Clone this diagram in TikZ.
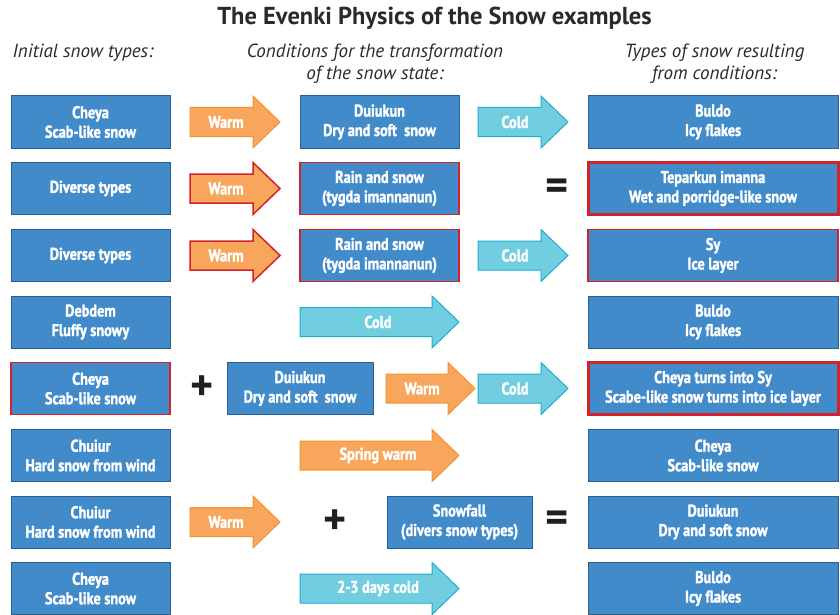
\documentclass[tikz,border=0pt]{standalone}
\usepackage{fontspec}
\setmainfont{PT Sans}
\newfontfamily\condfont[FakeStretch=0.84,FakeBold=1.6]{PT Sans Bold}
\definecolor{boxblue}{HTML}{428BCA}
\definecolor{boxedge}{HTML}{2C5F8C}
\definecolor{redge}{HTML}{D2232A}
\definecolor{warmfill}{HTML}{F8A65B}
\definecolor{warmedge}{HTML}{F39433}
\definecolor{coldfill}{HTML}{71CDE0}
\definecolor{coldedge}{HTML}{1FAECF}
\definecolor{hdr}{HTML}{2A2A2A}
\tikzset{
  snowbox/.style={draw=boxedge, line width=1pt, fill=boxblue, text=white,
    font=\condfont\fontsize{17}{19.5}\selectfont, align=center,
    minimum height=52pt, inner sep=0pt},
  leftbox/.style={snowbox, minimum width=159pt},
  midbox/.style={snowbox, minimum width=159pt},
  rightbox/.style={snowbox, minimum width=250pt},
  smallbox/.style={snowbox, minimum width=146pt},
  redthin/.style={draw=redge, line width=1.8pt},
  redthick/.style={draw=redge, line width=3pt},
  warmarrow/.style={fill=warmfill, draw=warmedge, line width=1pt},
  warmred/.style={fill=warmfill, draw=redge, line width=1.5pt},
  coldarrow/.style={fill=coldfill, draw=coldedge, line width=1pt},
  arrowlabel/.style={text=white, font=\condfont\fontsize{17}{19.5}\selectfont, inner sep=0pt},
  sign/.style={font=\bfseries\fontsize{44}{44}\selectfont, text=black!88, inner sep=0pt},
  header/.style={font=\itshape\fontsize{19}{22}\selectfont, text=hdr, align=center, inner sep=0pt},
}
% name, x1, x2, y, style, label x, label
\newcommand\fatarrow[7]{%
  \draw[#5] (#2,{#4-14.5}) -- ({#3-27},{#4-14.5}) -- ({#3-27},{#4-26}) -- (#3,#4)
    -- ({#3-27},{#4+26}) -- ({#3-27},{#4+14.5}) -- (#2,{#4+14.5}) -- cycle;
  \node[arrowlabel] (#1) at (#6,#4) {#7};}
\begin{document}
\begin{tikzpicture}[x=1pt,y=-1pt]
\useasboundingbox (0,0) rectangle (840,615);
\fill[white] (0,0) rectangle (840,615);

\node[font=\bfseries\fontsize{24.5}{28}\selectfont, text=hdr, inner sep=0pt] (title) at (434.5,18) {The Evenki Physics of the Snow examples};
\node[header] (h1) at (83,53) {Initial snow types:};
\node[header] (h2) at (375,64) {Conditions for the transformation\\of the snow state:};
\node[header] (h3) at (714.5,64) {Types of snow resulting\\from conditions:};

% Row 1
\node[leftbox] (l1) at (90.5,122) {Cheya\\Scab-like snow};
\fatarrow{a1}{190}{280}{122}{warmarrow}{226}{Warm}
\node[midbox] (m1) at (379.5,122) {Duiukun\\Dry and soft\ \ snow};
\fatarrow{b1}{478}{568}{122}{coldarrow}{515}{Cold}
\node[rightbox] (r1) at (713,122) {Buldo\\Icy flakes};

% Row 2
\node[leftbox] (l2) at (90.5,188.5) {Diverse types};
\fatarrow{a2}{190}{280}{188.5}{warmred}{226}{Warm}
\node[midbox, redthin] (m2) at (379.5,188.5) {Rain and snow\\(tygda imannanun)};
\node[sign] (e2) at (557,190) {=};
\node[rightbox, redthick] (r2) at (713,188.5) {Teparkun imanna\\Wet and porridge-like snow};

% Row 3
\node[leftbox] (l3) at (90.5,255.5) {Diverse types};
\fatarrow{a3}{190}{280}{255.5}{warmred}{226}{Warm}
\node[midbox, redthin] (m3) at (379.5,255.5) {Rain and snow\\(tygda imannanun)};
\fatarrow{b3}{478}{568}{255.5}{coldarrow}{515}{Cold}
\node[rightbox, redthin] (r3) at (713,255.5) {Sy\\Ice layer};

% Row 4
\node[leftbox] (l4) at (90.5,322) {Debdem\\Fluffy snowy};
\fatarrow{a4}{300}{459}{322}{coldarrow}{378}{Cold}
\node[rightbox] (r4) at (713,322) {Buldo\\Icy flakes};

% Row 5
\node[leftbox, redthin] (l5) at (90.5,388.5) {Cheya\\Scab-like snow};
\node[sign] (p5) at (202,388.5) {+};
\node[smallbox] (m5) at (300,388.5) {Duiukun\\Dry and soft\ \ snow};
\fatarrow{a5}{386}{475}{388.5}{warmarrow}{422}{Warm}
\fatarrow{b5}{478}{568}{388.5}{coldarrow}{515}{Cold}
\node[rightbox, redthick] (r5) at (713,388.5) {Cheya turns into Sy\\Scabe-like snow turns into ice layer};

% Row 6
\node[leftbox] (l6) at (90.5,455.5) {Chuiur\\Hard snow from wind};
\fatarrow{a6}{300}{459}{455.5}{warmarrow}{378}{Spring warm}
\node[rightbox] (r6) at (713,455.5) {Cheya\\Scab-like snow};

% Row 7
\node[leftbox] (l7) at (90.5,522) {Chuiur\\Hard snow from wind};
\fatarrow{a7}{190}{280}{522}{warmarrow}{226}{Warm}
\node[sign] (p7) at (335,522) {+};
\node[smallbox, minimum width=145pt] (m7) at (459.5,522) {Snowfall\\(divers snow types)};
\node[sign] (e7) at (557,522) {=};
\node[rightbox] (r7) at (713,522) {Duiukun\\Dry and soft snow};

% Row 8
\node[leftbox] (l8) at (90.5,588.5) {Cheya\\Scab-like snow};
\fatarrow{a8}{300}{459}{588.5}{coldarrow}{378}{2-3 days cold}
\node[rightbox] (r8) at (713,588.5) {Buldo\\Icy flakes};
\end{tikzpicture}
\end{document}
